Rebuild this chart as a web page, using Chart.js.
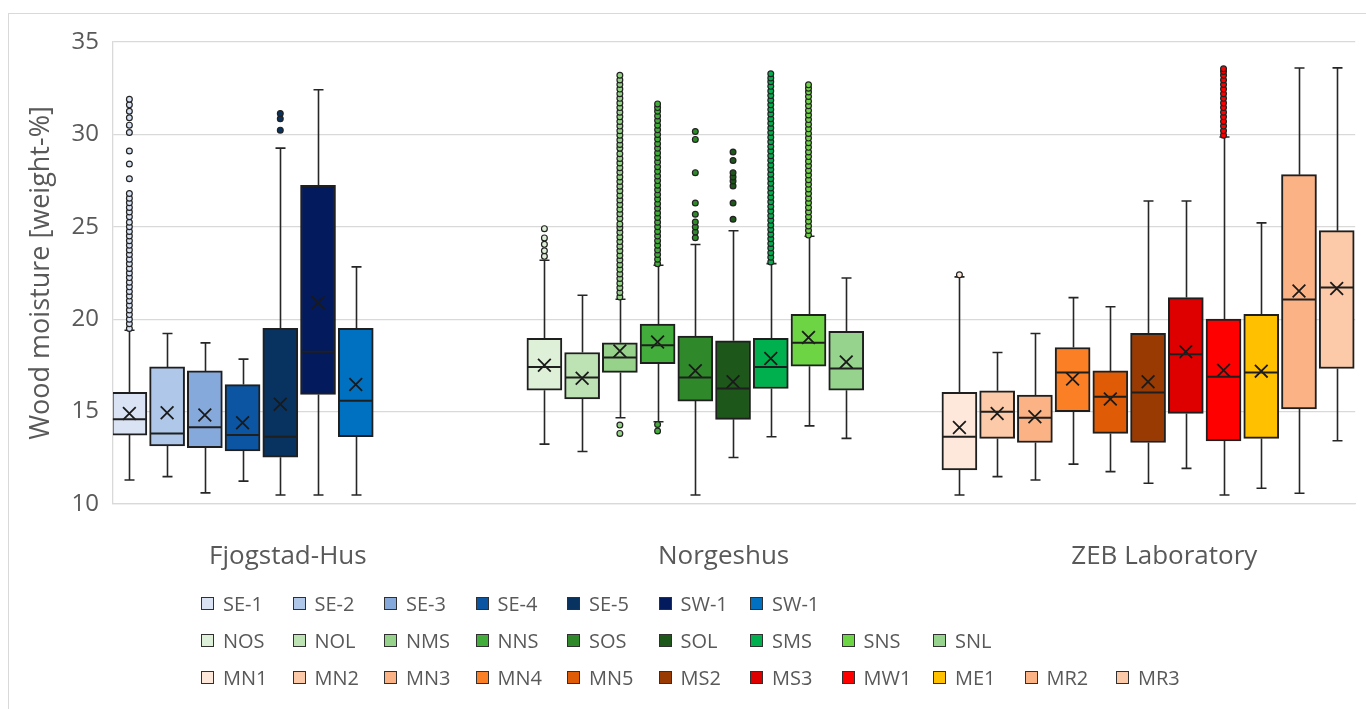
<!DOCTYPE html>
<html>
<head>
<meta charset="utf-8">
<script src="https://cdn.jsdelivr.net/npm/chart.js@4.4.1/dist/chart.umd.min.js"></script>
<style>
  html, body { margin: 0; padding: 0; background: #fff; overflow: hidden; }
  #wrap { position: relative; width: 1366px; height: 709px; }
  #frame { position: absolute; left: 8px; top: 13px; width: 1400px; height: 760px; border: 1px solid #d9d9d9; }
  #chart { position: absolute; left: 0; top: 0; }
  #legend { position: absolute; left: 201px; top: 585px; font-family: 'Open Sans', sans-serif; font-size: 20px; color: #595959; }
  .row { display: grid; grid-template-columns: repeat(11, 91.5px); height: 37px; align-items: center; }
  .item { display: flex; align-items: center; white-space: nowrap; }
  .sw { width: 11px; height: 11px; border: 1.5px solid #303030; margin-right: 9px; }
</style>
</head>
<body>
<div id="wrap">
  <div id="frame"></div>
  <canvas id="chart" width="1366" height="709"></canvas>
  <div id="legend"></div>
</div>
<script>
document.addEventListener('DOMContentLoaded', () => {

    const groupLabels = ['Fjogstad-Hus', 'Norgeshus', 'ZEB Laboratory'];
    const groupSizes = [7, 9, 11];

    const seriesNames = [
        'SE-1', 'SE-2', 'SE-3', 'SE-4', 'SE-5', 'SW-1', 'SW-1',
        'NOS', 'NOL', 'NMS', 'NNS', 'SOS', 'SOL', 'SMS', 'SNS', 'SNL',
        'MN1', 'MN2', 'MN3', 'MN4', 'MN5', 'MS2', 'MS3', 'MW1', 'ME1', 'MR2', 'MR3'
    ];

    // five-number summaries
    const whiskerLow = [11.3, 11.48, 10.6, 11.24, 10.49, 10.49, 10.49,
        13.24, 12.84, 14.67, 14.45, 10.49, 12.52, 13.64, 14.23, 13.55,
        10.49, 11.48, 11.3, 12.16, 11.75, 11.12, 11.93, 10.49, 10.85, 10.58, 13.42];
    const q1 = [13.73, 13.14, 13.05, 12.87, 12.53, 15.93, 13.64,
        16.16, 15.68, 17.12, 17.6, 15.57, 14.58, 16.25, 17.46, 16.16,
        11.84, 13.55, 13.33, 14.99, 13.82, 13.33, 14.9, 13.42, 13.55, 15.14, 17.33];
    const median = [14.58, 13.82, 14.15, 13.73, 13.64, 18.24, 15.59,
        17.42, 16.85, 17.93, 18.59, 16.85, 16.25, 17.42, 18.72, 17.33,
        13.64, 14.99, 14.67, 17.12, 15.8, 16.04, 18.11, 16.88, 17.12, 21.06, 21.71];
    const q3 = [16.04, 17.42, 17.2, 16.46, 19.5, 27.24, 19.5,
        18.96, 18.2, 18.72, 19.73, 19.08, 18.83, 18.96, 20.27, 19.35,
        16.04, 16.13, 15.89, 18.47, 17.2, 19.23, 21.17, 20.0, 20.27, 27.82, 24.79];
    const whiskerHigh = [19.4, 19.23, 18.72, 17.84, 29.26, 32.42, 22.83,
        23.19, 21.3, 21.08, 22.92, 24.04, 24.79, 23.01, 24.49, 22.23,
        22.29, 18.2, 19.23, 21.17, 20.67, 26.4, 26.4, 29.86, 25.21, 33.59, 33.6];
    const means = [14.9, 14.94, 14.82, 14.4, 15.4, 20.89, 16.47,
        17.51, 16.8, 18.28, 18.77, 17.21, 16.61, 17.87, 19.01, 17.69,
        14.14, 14.9, 14.72, 16.76, 15.68, 16.61, 18.24, 17.24, 17.19, 21.53, 21.66];

    const outliers = [
        [19.5, 19.75, 20.0, 20.25, 20.5, 20.75, 21.0, 21.25, 21.5, 21.75, 22.0, 22.25, 22.5, 22.75, 23.0,
         23.25, 23.5, 23.75, 24.0, 24.25, 24.5, 24.75, 25.0, 25.25, 25.55, 25.8, 26.05, 26.3, 26.55, 26.8,
         27.6, 28.4, 29.1, 30.1, 30.5, 30.9, 31.25, 31.6, 31.9],
        [], [], [],
        [30.23, 30.85, 31.13],
        [], [],
        [23.4, 23.7, 24.05, 24.4, 24.9],
        [],
        [13.82, 14.27, 21.2, 21.45, 21.7, 21.95, 22.2, 22.45, 22.7, 22.95, 23.2, 23.45, 23.7, 23.95, 24.2,
         24.45, 24.7, 24.95, 25.15, 25.45, 25.7, 25.95, 26.2, 26.45, 26.7, 26.95, 27.2, 27.45, 27.7, 27.95,
         28.2, 28.45, 28.7, 28.95, 29.25, 29.45, 29.7, 29.95, 30.2, 30.45, 30.7, 30.95, 31.2, 31.45, 31.7,
         31.95, 32.2, 32.45, 32.7, 32.95, 33.2],
        [13.95, 14.3, 23.0, 23.25, 23.5, 23.75, 24.0, 24.25, 24.5, 24.75, 25.0, 25.25, 25.5, 25.75, 26.0,
         26.25, 26.5, 26.75, 27.0, 27.25, 27.5, 27.75, 28.0, 28.25, 28.5, 28.75, 29.0, 29.25, 29.5, 29.75,
         30.0, 30.25, 30.5, 30.75, 31.0, 31.25, 31.45, 31.65],
        [24.41, 24.72, 24.99, 25.26, 25.68, 26.29, 27.93, 29.73, 30.16],
        [25.41, 26.29, 27.21, 27.48, 27.7, 27.93, 28.59, 29.05],
        [23.1, 23.35, 23.6, 23.85, 24.1, 24.35, 24.6, 24.85, 25.1, 25.35, 25.6, 25.85, 26.1, 26.35, 26.6,
         26.85, 27.1, 27.35, 27.6, 27.85, 28.1, 28.35, 28.6, 28.85, 29.1, 29.35, 29.6, 29.85, 30.1, 30.35,
         30.6, 30.85, 31.1, 31.35, 31.6, 31.85, 32.1, 32.35, 32.6, 32.85, 33.05, 33.28],
        [24.55, 24.8, 25.05, 25.3, 25.55, 25.8, 26.05, 26.3, 26.55, 26.8, 27.05, 27.3, 27.55, 27.8, 28.05,
         28.3, 28.55, 28.8, 29.05, 29.3, 29.55, 29.8, 30.05, 30.3, 30.55, 30.8, 31.05, 31.3, 31.55, 31.8,
         32.05, 32.3, 32.5, 32.68],
        [],
        [22.4],
        [], [], [], [], [], [],
        [29.95, 30.2, 30.45, 30.7, 30.95, 31.2, 31.45, 31.7, 31.95, 32.2, 32.45, 32.7, 32.95, 33.2, 33.4, 33.55],
        [], [], []
    ];

    const yTicks = [10, 15, 20, 25, 30, 35];

    const boxColors = [
        '#dae3f3', '#afc8e9', '#86a9dc', '#0b55a2', '#08325f', '#031a5c', '#0070c0',
        '#dff0d8', '#bde2b3', '#97d28b', '#42ad3b', '#2f892b', '#1e571a', '#00b04f', '#6dd443', '#96d38d',
        '#fde8db', '#fccaa8', '#fbb386', '#fa7f25', '#df5b05', '#993a02', '#de0000', '#ff0000', '#ffc000', '#fbb386', '#fccaa8'
    ];

    // each location gets 11 slots on the x axis, boxes packed from the left
    const slotsPerGroup = 11;
    const slots = [];
    groupSizes.forEach((n, g) => { for (let k = 0; k < n; k++) slots.push(g * slotsPerGroup + k); });
    const labelSlots = [4.2, 15.75, 27.43];

    Chart.defaults.font.family = "'Open Sans', sans-serif";
    Chart.defaults.color = '#595959';

    const datasets = [];
    datasets.push({
        type: 'scatter',
        data: slots.map((s, i) => ({ x: s, y: means[i] })),
        pointStyle: 'crossRot',
        pointRadius: 9,
        pointBorderWidth: 1.8,
        borderColor: '#1a1a1a',
        backgroundColor: 'transparent',
        order: 1
    });
    outliers.forEach((list, i) => {
        if (!list.length) return;
        datasets.push({
            type: 'scatter',
            data: list.map(v => ({ x: slots[i], y: v })),
            pointStyle: 'circle',
            pointRadius: 2.9,
            pointBorderWidth: 1.2,
            borderColor: '#222',
            backgroundColor: boxColors[i],
            order: 1
        });
    });
    seriesNames.forEach((name, i) => {
        datasets.push({
            type: 'bar',
            label: name,
            data: [{ x: slots[i], y: [q1[i], q3[i]] }],
            backgroundColor: boxColors[i],
            borderColor: '#1f1f1f',
            borderWidth: 2,
            borderSkipped: false,
            barThickness: 35,
            grouped: false,
            order: 2
        });
    });

    const boxParts = {
        id: 'boxParts',
        beforeDatasetsDraw(chart) {
            const { ctx, scales: { x, y } } = chart;
            ctx.save();
            ctx.strokeStyle = '#262626';
            ctx.lineWidth = 1.6;
            ctx.beginPath();
            slots.forEach((s, i) => {
                const px = Math.round(x.getPixelForValue(s)) + 0.5;
                const yHi = y.getPixelForValue(whiskerHigh[i]);
                const yLo = y.getPixelForValue(whiskerLow[i]);
                ctx.moveTo(px, y.getPixelForValue(q3[i])); ctx.lineTo(px, yHi);
                ctx.moveTo(px, y.getPixelForValue(q1[i])); ctx.lineTo(px, yLo);
                ctx.moveTo(px - 5, yHi); ctx.lineTo(px + 5, yHi);
                ctx.moveTo(px - 5, yLo); ctx.lineTo(px + 5, yLo);
            });
            ctx.stroke();
            ctx.restore();
        },
        afterDatasetsDraw(chart) {
            const { ctx, scales: { x, y } } = chart;
            ctx.save();
            ctx.strokeStyle = '#1f1f1f';
            ctx.lineWidth = 2;
            ctx.beginPath();
            slots.forEach((s, i) => {
                const px = x.getPixelForValue(s);
                const py = y.getPixelForValue(median[i]);
                ctx.moveTo(px - 16.5, py); ctx.lineTo(px + 16.5, py);
            });
            ctx.stroke();
            ctx.restore();
        }
    };

    new Chart(document.getElementById('chart'), {
        type: 'bar',
        data: { datasets },
        options: {
            responsive: false,
            animation: false,
            events: [],
            layout: { padding: { left: 0, top: 42, right: 2, bottom: 0 } },
            plugins: { legend: { display: false }, tooltip: { enabled: false } },
            scales: {
                x: {
                    type: 'linear',
                    offset: false,
                    min: -0.434,
                    max: 32.49,
                    grid: { display: false, offset: false },
                    border: { display: true, color: '#d9d9d9', width: 1.3 },
                    afterBuildTicks: scale => { scale.ticks = labelSlots.map(v => ({ value: v })); },
                    afterFit: scale => { scale.height = 205; },
                    ticks: {
                        autoSkip: false,
                        maxRotation: 0,
                        padding: 29,
                        font: { size: 26 },
                        color: '#595959',
                        callback: (v, idx) => groupLabels[idx]
                    }
                },
                y: {
                    min: 10,
                    max: 35,
                    afterBuildTicks: scale => { scale.ticks = yTicks.map(v => ({ value: v })); },
                    afterFit: scale => { scale.width = 113; },
                    grid: { color: '#d9d9d9', lineWidth: 1.3, drawTicks: false },
                    border: { display: true, color: '#d9d9d9', width: 1.3 },
                    ticks: { padding: 14, font: { size: 24 }, color: '#595959' },
                    title: {
                        display: true,
                        text: 'Wood moisture [weight-%]',
                        font: { size: 27 },
                        color: '#595959',
                        padding: { top: 25, bottom: 0 }
                    }
                }
            }
        },
        plugins: [boxParts]
    });

    // legend: one row per location
    const legendEl = document.getElementById('legend');
    let start = 0;
    groupSizes.forEach(n => {
        const row = document.createElement('div');
        row.className = 'row';
        for (let i = start; i < start + n; i++) {
            const item = document.createElement('div');
            item.className = 'item';
            const sw = document.createElement('span');
            sw.className = 'sw';
            sw.style.background = boxColors[i];
            const txt = document.createElement('span');
            txt.textContent = seriesNames[i];
            item.appendChild(sw);
            item.appendChild(txt);
            row.appendChild(item);
        }
        legendEl.appendChild(row);
        start += n;
    });
});
</script>
</body>
</html>
